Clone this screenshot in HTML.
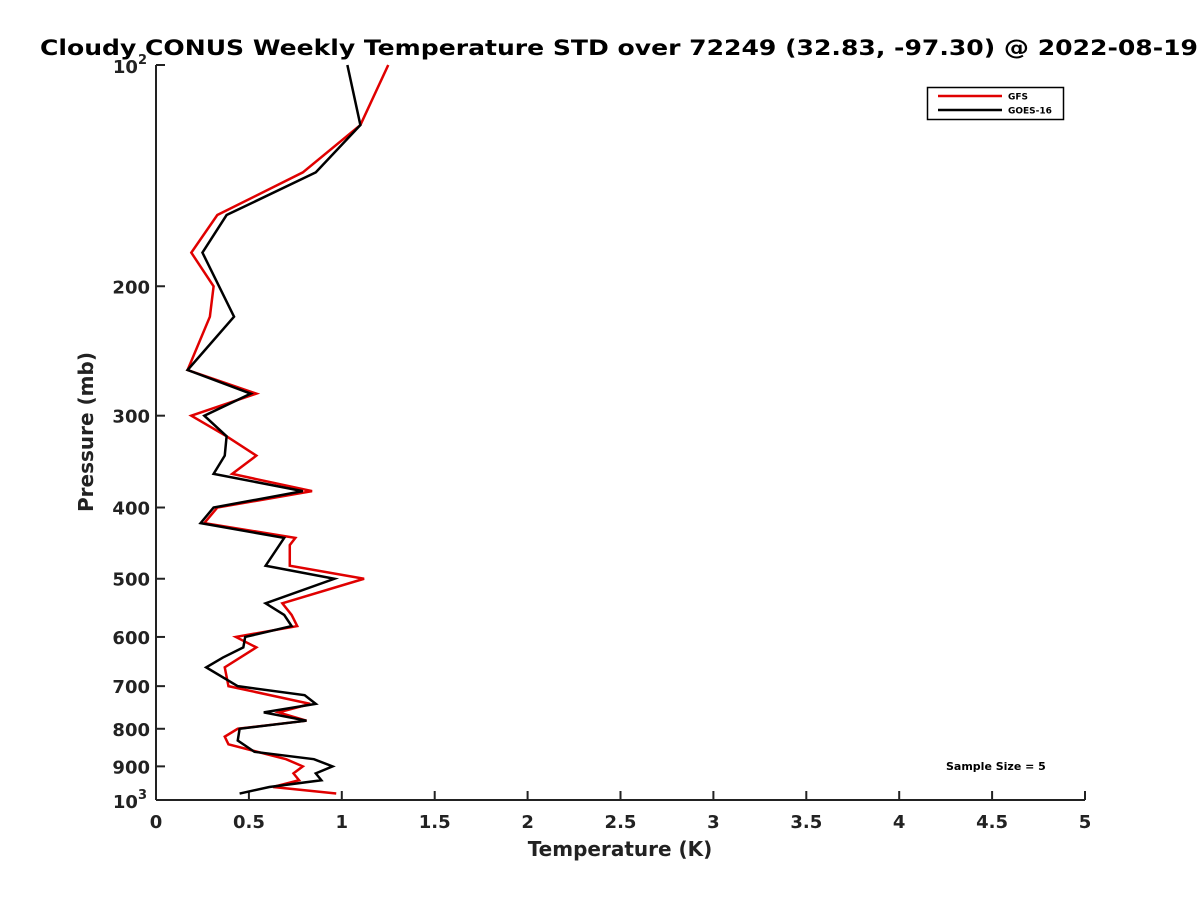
<!DOCTYPE html>
<html><head><meta charset="utf-8"><style>
body{margin:0;background:#fff;}
svg{display:block;font-family:"DejaVu Sans","Liberation Sans",sans-serif;}
</style></head><body>
<svg id="chart" width="1200" height="900" xmlns="http://www.w3.org/2000/svg">
<rect width="1200" height="900" fill="#fff"/>
<text x="40" y="55" font-size="21" font-weight="bold" fill="#000" textLength="1158" lengthAdjust="spacingAndGlyphs">Cloudy CONUS Weekly Temperature STD over 72249 (32.83, -97.30) @ 2022-08-19</text>
<g id="axes"></g>
<g id="series"></g>
<g>
<rect x="927.5" y="87.5" width="136" height="32" fill="#fff" stroke="#000" stroke-width="1.5"/>
<line x1="938" y1="96" x2="1002" y2="96" stroke="#e00000" stroke-width="2.5"/>
<text x="1008" y="99.5" font-size="9" font-weight="bold">GFS</text>
<line x1="938" y1="110" x2="1002" y2="110" stroke="#000" stroke-width="2.5"/>
<text x="1008" y="113.5" font-size="9" font-weight="bold">GOES-16</text>
</g>
<text x="946" y="770" font-size="11" font-weight="bold">Sample Size = 5</text>
<text x="620" y="856" text-anchor="middle" font-size="20" font-weight="bold" fill="#222">Temperature (K)</text>
<text transform="translate(93,432) rotate(-90)" text-anchor="middle" font-size="20" font-weight="bold" fill="#222">Pressure (mb)</text>
</svg>
<script>
const pressure = [100,120.7,140,160,180,200,220,260,280,300,320,340,360,380,400,420,440,450,480,500,540,560,580,600,620,660,700,740,760,780,800,820,840,880,900,920,940,960,980];
const gfsValues = [1.25,1.10,0.79,0.33,0.19,0.31,0.29,0.17,0.54,0.19,0.38,0.54,0.41,0.84,0.33,0.26,0.75,0.72,0.72,1.12,0.68,0.73,0.76,0.43,0.54,0.37,0.39,0.83,0.66,0.81,0.44,0.37,0.39,0.70,0.79,0.74,0.77,0.63,0.97];
const goesPressure = [100,120.7,140,160,180,220,260,280,300,320,340,360,380,400,420,440,480,500,540,560,580,600,620,640,660,700,720,740,760,780,800,830,860,880,900,920,940,960,980];
const goesValues = [1.03,1.10,0.86,0.38,0.25,0.42,0.17,0.51,0.26,0.38,0.37,0.31,0.79,0.31,0.24,0.69,0.59,0.96,0.59,0.69,0.73,0.48,0.47,0.36,0.27,0.44,0.80,0.86,0.58,0.81,0.45,0.44,0.53,0.85,0.95,0.86,0.89,0.61,0.45];
const xTicks = [0,0.5,1,1.5,2,2.5,3,3.5,4,4.5,5];
const xTickLabels = ["0","0.5","1","1.5","2","2.5","3","3.5","4","4.5","5"];
const yTicks = [200,300,400,500,600,700,800,900];

const NS="http://www.w3.org/2000/svg";
const X0=156,X1=1085,Y0=65,Y1=800;
function xs(v){return X0+(v/5)*(X1-X0);}
function ys(p){return Y0+(Math.log10(p)-2)*(Y1-Y0);}
function mk(tag,attrs,parent){const e=document.createElementNS(NS,tag);for(const k in attrs)e.setAttribute(k,attrs[k]);parent.appendChild(e);return e;}
const axes=document.getElementById('axes');
let l=mk('line',{x1:X0,y1:Y1,x2:X1,y2:Y1,stroke:'#222','stroke-width':2},axes);


l=mk('line',{x1:X0,y1:Y0,x2:X0,y2:Y1,stroke:'#222','stroke-width':2},axes);


xTicks.forEach((v,i)=>{
  const t=mk('line',{x1:xs(v),y1:Y1,x2:xs(v),y2:Y1-9,stroke:'#222','stroke-width':2},axes);
  
  
  const tx=mk('text',{x:xs(v),y:Y1+28,'text-anchor':'middle','font-size':18,'font-weight':'bold',fill:'#222'},axes);
  tx.textContent=xTickLabels[i];
  
  
});
[100].concat(yTicks).concat([1000]).forEach(p=>{
  const t=mk('line',{x1:X0,y1:ys(p),x2:X0+9,y2:ys(p),stroke:'#222','stroke-width':2},axes);
  
  
});
yTicks.forEach(p=>{
  const tx=mk('text',{x:X0-6,y:ys(p)+7,'text-anchor':'end','font-size':18,'font-weight':'bold',fill:'#222'},axes);
  tx.textContent=String(p);
  
  
});
[[100,'2'],[1000,'3']].forEach(([p,e])=>{
  const tx=mk('text',{x:X0-9,y:ys(p)+8,'text-anchor':'end','font-size':18,'font-weight':'bold',fill:'#222'},axes);
  tx.innerHTML='10<tspan dy="-9" font-size="13">'+e+'</tspan>';
  
  
});
const sg=document.getElementById('series');
const g1=mk('polyline',{points:pressure.map((p,i)=>xs(gfsValues[i])+','+ys(p)).join(' '),fill:'none',stroke:'#e00000','stroke-width':2.5,'stroke-linejoin':'miter'},sg);


const g2=mk('polyline',{points:goesPressure.map((p,i)=>xs(goesValues[i])+','+ys(p)).join(' '),fill:'none',stroke:'#000','stroke-width':2.5,'stroke-linejoin':'miter'},sg);


</script>
</body></html>
